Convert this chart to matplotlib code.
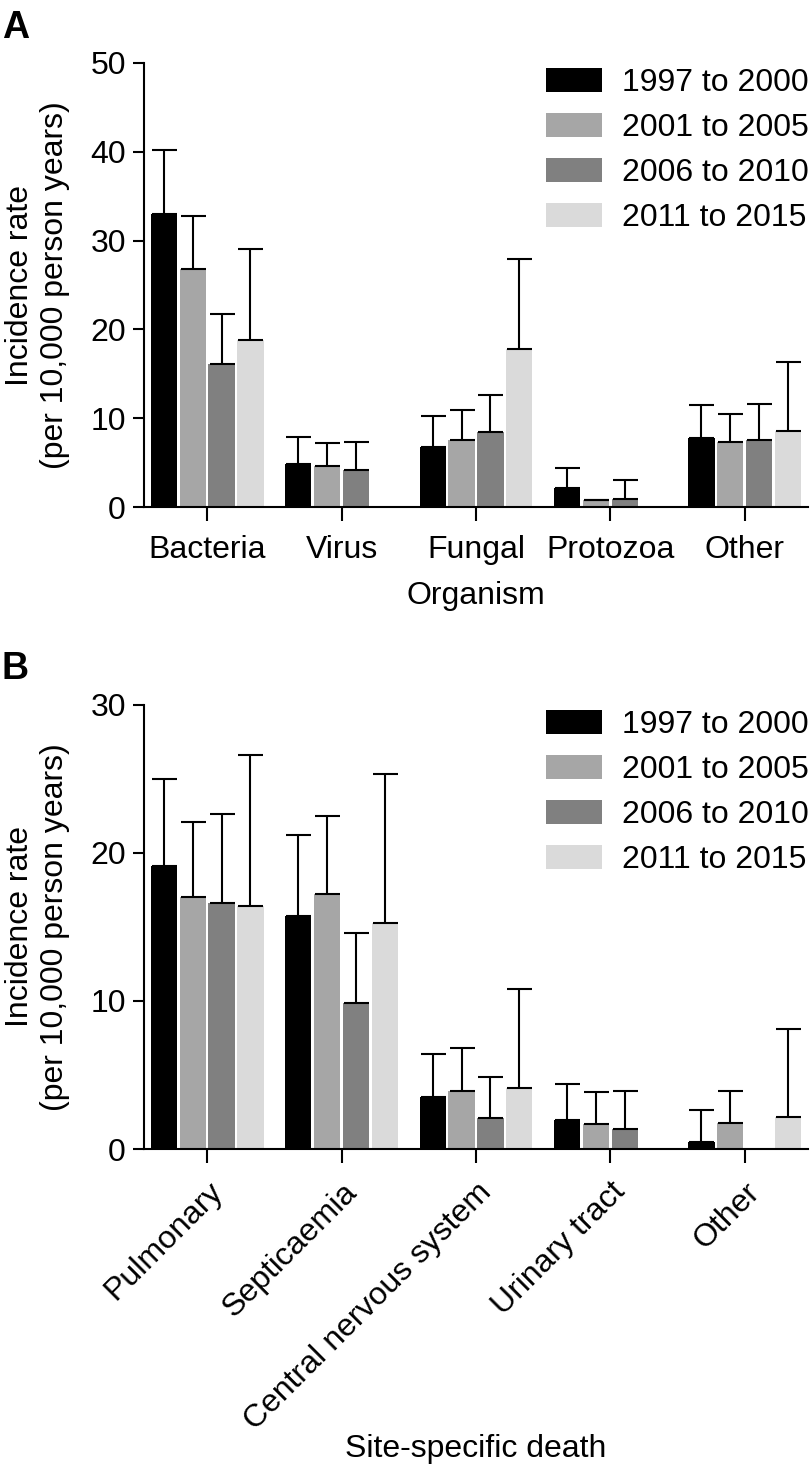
import numpy as np
import matplotlib
matplotlib.use('Agg')
import matplotlib.pyplot as plt

plt.rcParams['font.family'] = ['Liberation Sans', 'DejaVu Sans']

periods = ['1997 to 2000', '2001 to 2005', '2006 to 2010', '2011 to 2015']
colors = ['#000000', '#a6a6a6', '#808080', '#dadada']

organisms = ['Bacteria', 'Virus', 'Fungal', 'Protozoa', 'Other']
# rows = periods, columns = organisms (nan = no bar)
org_rate = [
    [33.0, 4.8, 6.8, 2.2, 7.8],
    [26.8, 4.6, 7.5, 0.75, 7.3],
    [16.1, 4.2, 8.45, 0.85, 7.6],
    [18.8, np.nan, 17.8, np.nan, 8.55],
]
org_upper = [
    [40.2, 7.9, 10.2, 4.45, 11.5],
    [32.8, 7.2, 10.9, 0.8, 10.5],
    [21.7, 7.3, 12.6, 3.0, 11.6],
    [29.1, np.nan, 27.9, np.nan, 16.3],
]

sites = ['Pulmonary', 'Septicaemia', 'Central nervous system', 'Urinary tract', 'Other']
site_rate = [
    [19.1, 15.75, 3.5, 1.95, 0.45],
    [17.0, 17.2, 3.95, 1.7, 1.75],
    [16.65, 9.85, 2.1, 1.35, np.nan],
    [16.4, 15.3, 4.15, np.nan, 2.15],
]
site_upper = [
    [25.0, 21.2, 6.4, 4.4, 2.65],
    [22.1, 22.5, 6.8, 3.85, 3.9],
    [22.6, 14.6, 4.85, 3.9, np.nan],
    [26.6, 25.35, 10.8, np.nan, 8.1],
]

FS = 23


def draw_panel(ax, cats, rates, uppers, ymax, yticks):
    x = np.arange(len(cats))
    step = 0.215
    for i, (r, u) in enumerate(zip(rates, uppers)):
        r = np.array(r)
        u = np.array(u)
        pos = x + (i - 1.5) * step
        ax.bar(pos, r, width=0.195, color=colors[i], label=periods[i], zorder=2)
        ax.errorbar(pos, r, yerr=[np.zeros_like(r), u - r], fmt='none',
                    ecolor='black', elinewidth=1.5, capsize=9, capthick=1.5, zorder=3)
    ax.set_xlim(-0.47, len(cats) - 0.53)
    ax.set_ylim(0, ymax)
    ax.set_yticks(yticks)
    ax.set_xticks(x)
    for s in ['top', 'right']:
        ax.spines[s].set_visible(False)
    for s in ['left', 'bottom']:
        ax.spines[s].set_linewidth(1.5)
    ax.tick_params(axis='y', length=8, width=1.5, pad=5, labelsize=FS)
    ax.tick_params(axis='x', length=10, width=1.5, pad=10, labelsize=FS)
    ax.set_ylabel('Incidence rate\n(per 10,000 person years)', fontsize=FS)
    ax.yaxis.set_label_coords(-0.112, 0.5)
    ax.legend(loc='upper left', frameon=False, fontsize=FS, borderpad=0,
              borderaxespad=0, handlelength=1.75, handleheight=0.8,
              handletextpad=0.65, labelspacing=0.46,
              bbox_to_anchor=(0.605, 0.989))


fig = plt.figure(figsize=(8.12, 14.68), dpi=100)
ax1 = fig.add_axes([0.1773, 0.6546, 0.8177, 0.3025])
ax2 = fig.add_axes([0.1773, 0.2173, 0.8177, 0.3025])

draw_panel(ax1, organisms, org_rate, org_upper, 50, [0, 10, 20, 30, 40, 50])
ax1.set_xticklabels(organisms)
ax1.set_xlabel('Organism', fontsize=FS, labelpad=12)

draw_panel(ax2, sites, site_rate, site_upper, 30, [0, 10, 20, 30])
ax2.set_xticklabels(sites, rotation=45, ha='right', rotation_mode='anchor')
ax2.set_xlabel('Site-specific death', fontsize=FS)
ax2.xaxis.set_label_coords(0.5, -0.642)

fig.text(0.002, 1 - 38 / 1468, 'A', fontsize=27, fontweight='bold', va='baseline')
fig.text(0.002, 1 - 679 / 1468, 'B', fontsize=27, fontweight='bold', va='baseline')

fig.savefig('out.png', dpi=100)
